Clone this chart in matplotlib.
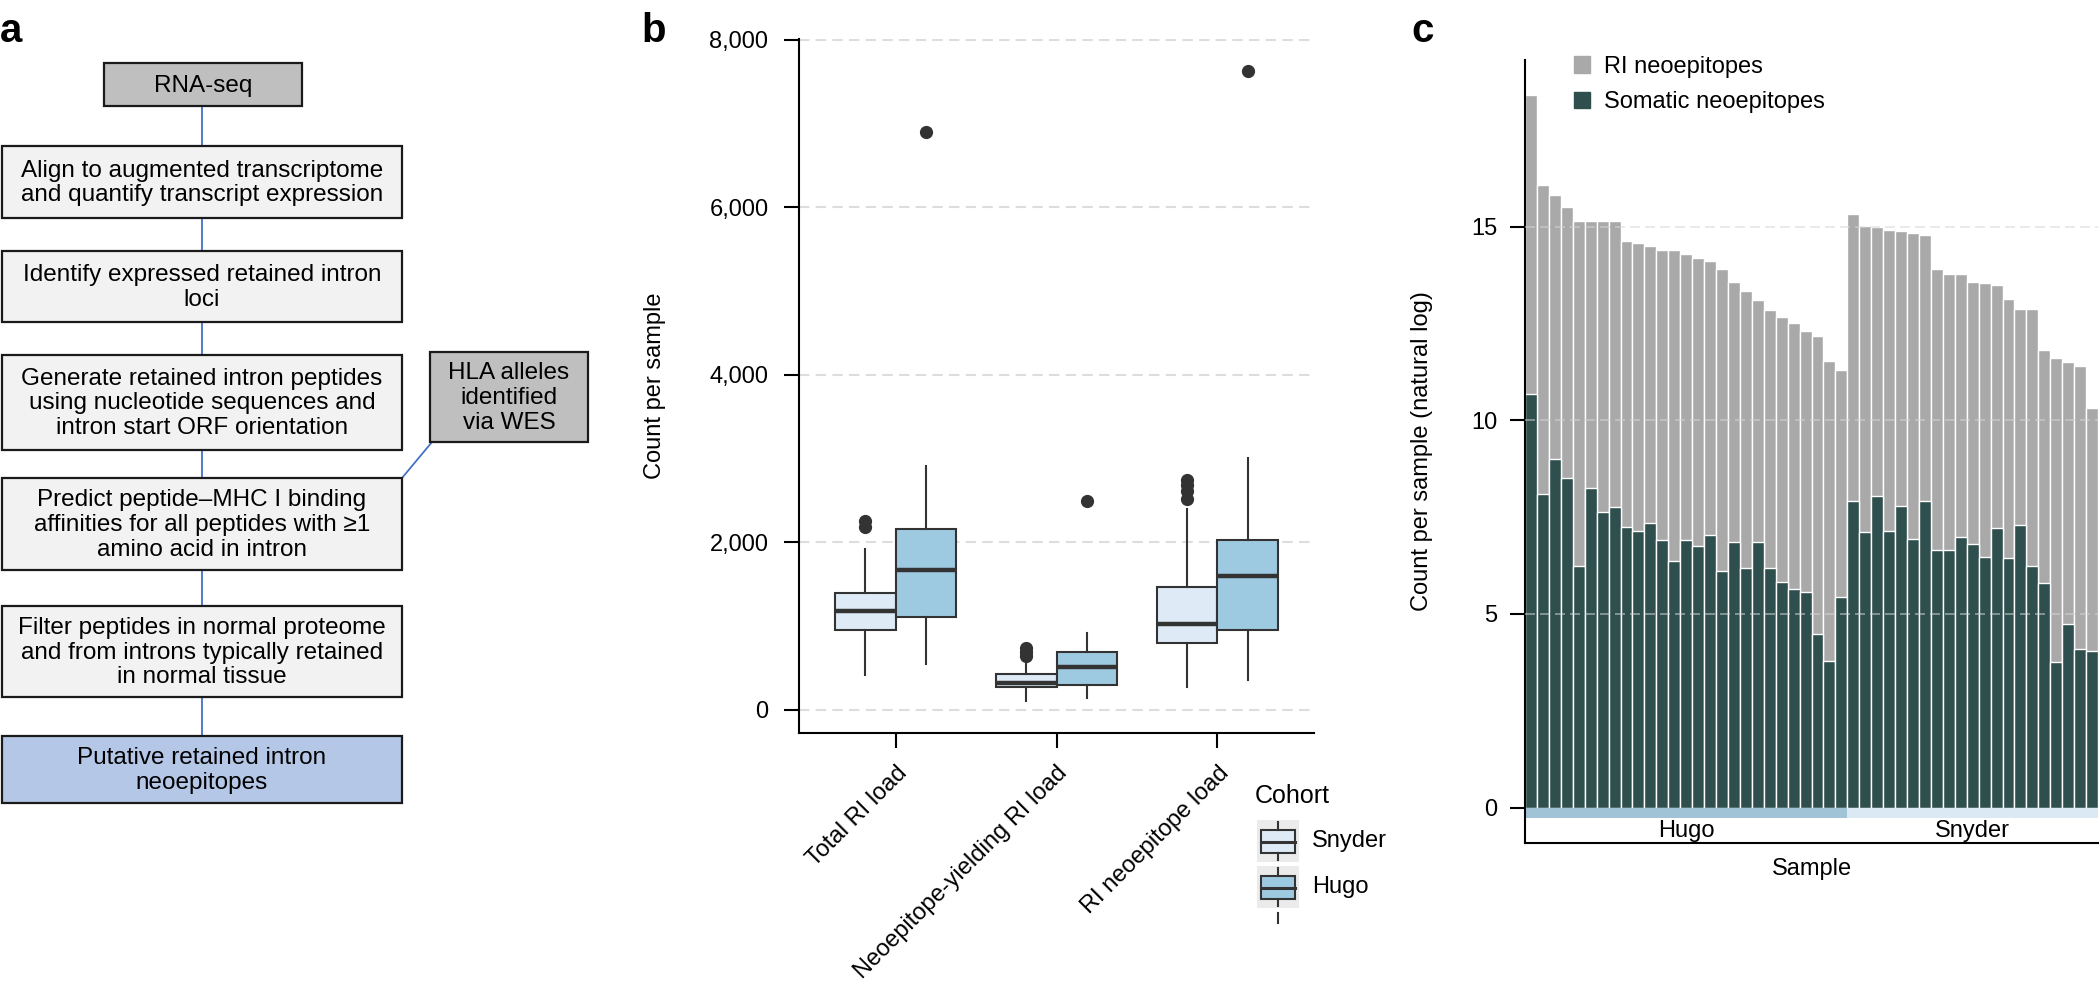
import numpy as np
import matplotlib
matplotlib.use('Agg')
import matplotlib.pyplot as plt
from matplotlib.patches import Rectangle, Patch
from matplotlib.ticker import FuncFormatter

plt.rcParams['font.family'] = ['Liberation Sans', 'DejaVu Sans']

# ---- panel a: pipeline steps ----
flow_steps = [
    'RNA-seq',
    'Align to augmented transcriptome\nand quantify transcript expression',
    'Identify expressed retained intron\nloci',
    'Generate retained intron peptides\nusing nucleotide sequences and\nintron start ORF orientation',
    'Predict peptide\u2013MHC I binding\naffinities for all peptides with \u22651\namino acid in intron',
    'Filter peptides in normal proteome\nand from introns typically retained\nin normal tissue',
    'Putative retained intron\nneoepitopes',
]
side_step = 'HLA alleles\nidentified\nvia WES'

# ---- panel b: load per sample (box stats) ----
load_types = ['Total RI load', 'Neoepitope-yielding RI load', 'RI neoepitope load']
cohorts = ['Snyder', 'Hugo']
# (whislo, q1, med, q3, whishi)
snyder_stats = [(410, 959, 1177, 1397, 1918), (103, 270, 318, 430, 590), (270, 795, 1030, 1472, 2400)]
hugo_stats = [(549, 1114, 1667, 2161, 2913), (143, 302, 517, 696, 915), (350, 955, 1592, 2022, 3009)]
snyder_fliers = [[2180, 2260], [640, 690, 740], [2520, 2610, 2680, 2750]]
hugo_fliers = [[6905], [2491], [7634]]

# ---- panel c: per-sample counts (natural log) ----
hugo_ri = [18.41, 16.08, 15.81, 15.52, 15.16, 15.16, 15.16, 15.16, 14.63, 14.57, 14.51, 14.39, 14.39, 14.31,
           14.19, 14.11, 13.90, 13.58, 13.33, 13.12, 12.84, 12.67, 12.52, 12.31, 12.17, 11.54, 11.31]
hugo_somatic = [10.67, 8.10, 9.00, 8.52, 6.23, 8.26, 7.63, 7.76, 7.25, 7.14, 7.34, 6.90, 6.38, 6.92,
                6.75, 7.04, 6.11, 6.86, 6.18, 6.87, 6.18, 5.83, 5.64, 5.57, 4.48, 3.79, 5.43]
snyder_ri = [15.32, 15.01, 15.00, 14.93, 14.89, 14.85, 14.78, 13.92, 13.78, 13.78, 13.57, 13.54, 13.49,
             13.13, 12.89, 12.89, 11.81, 11.60, 11.52, 11.40, 10.31]
snyder_somatic = [7.93, 7.12, 8.04, 7.14, 7.78, 6.93, 7.91, 6.66, 6.64, 6.98, 6.81, 6.48, 7.21,
                  6.45, 7.29, 6.23, 5.81, 3.77, 4.75, 4.09, 4.05]

colors_cohort = {'Snyder': '#deebf7', 'Hugo': '#9ecae1'}
band_colors = {'Snyder': '#dbe9f5', 'Hugo': '#a0c4d6'}
dark = '#333333'

fig = plt.figure(figsize=(21, 9.98), dpi=100)

# overlay in pixel coordinates for the flowchart, panel letters and cohort legend
ov = fig.add_axes([0, 0, 1, 1])
ov.set_xlim(0, 2100)
ov.set_ylim(998, 0)
ov.axis('off')
ov.patch.set_alpha(0)

box_x = [(104, 302)] + [(2, 402)] * 6
box_y = [(63, 106), (146, 218), (251, 322), (355, 450), (478, 570), (606, 697), (736, 803)]
box_fill = ['#bfbfbf', '#f2f2f2', '#f2f2f2', '#f2f2f2', '#f2f2f2', '#f2f2f2', '#b4c7e7']
line_blue = '#4472c4'

for i, txt in enumerate(flow_steps):
    x0, x1 = box_x[i]
    y0, y1 = box_y[i]
    ov.add_patch(Rectangle((x0, y0), x1 - x0, y1 - y0, facecolor=box_fill[i], edgecolor='#1a1a1a', linewidth=1.6, zorder=2))
    ov.text((x0 + x1) / 2, (y0 + y1) / 2 + 1, txt, ha='center', va='center', fontsize=17.5, linespacing=1.15, zorder=3)
    if i > 0:
        ov.plot([202, 202], [box_y[i - 1][1], y0], color=line_blue, linewidth=1.3, zorder=1)

# side box (HLA alleles)
ov.add_patch(Rectangle((430, 352), 158, 90, facecolor='#bfbfbf', edgecolor='#1a1a1a', linewidth=1.6, zorder=2))
ov.text(509, 398, side_step, ha='center', va='center', fontsize=17.5, linespacing=1.15, zorder=3)
ov.plot([402, 432], [478, 442], color=line_blue, linewidth=1.3, zorder=1)

# panel letters
for lx, letter in [(0, 'a'), (641, 'b'), (1411, 'c')]:
    ov.text(lx, 42, letter, fontsize=29, fontweight='bold', ha='left', va='baseline')

# ---- panel b ----
axb = fig.add_axes([799 / 2100, 1 - 733 / 998, 515 / 2100, (733 - 39) / 998])
axb.patch.set_alpha(0)
idx = np.arange(1, len(load_types) + 1)
for c, (stats, fliers, off) in enumerate([(snyder_stats, snyder_fliers, -0.1875), (hugo_stats, hugo_fliers, 0.1875)]):
    bstats = []
    for (lo, q1, med, q3, hi), fl in zip(stats, fliers):
        bstats.append(dict(whislo=lo, q1=q1, med=med, q3=q3, whishi=hi, fliers=fl))
    axb.bxp(bstats, positions=idx + off, widths=0.375, patch_artist=True, showcaps=False,
            boxprops=dict(facecolor=colors_cohort[cohorts[c]], edgecolor=dark, linewidth=1.5),
            medianprops=dict(color=dark, linewidth=3.2),
            whiskerprops=dict(color=dark, linewidth=1.5),
            flierprops=dict(marker='o', markerfacecolor=dark, markeredgecolor=dark, markersize=8.5),
            manage_ticks=False, zorder=3)

axb.set_xlim(0.4, 3.6)
axb.set_ylim(-277, 8011)
axb.set_yticks([0, 2000, 4000, 6000, 8000])
axb.yaxis.set_major_formatter(FuncFormatter(lambda v, _: f'{v:,.0f}'))
axb.set_xticks(idx)
axb.set_xticklabels(load_types, rotation=45, ha='right', va='top', rotation_mode='anchor')
axb.grid(axis='y', color='#dddddd', linestyle=(0, (5, 3)), linewidth=1.5, zorder=0)
axb.set_axisbelow(True)
for s in ['top', 'right']:
    axb.spines[s].set_visible(False)
for s in ['left', 'bottom']:
    axb.spines[s].set_linewidth(1.5)
axb.tick_params(axis='both', length=11, width=1.5, labelsize=17)
axb.tick_params(axis='y', pad=11)
axb.tick_params(axis='x', pad=10)
axb.set_ylabel('Count per sample', fontsize=17)
axb.yaxis.set_label_coords(-0.258, 0.5)

# cohort legend (drawn in pixel coords)
ov.text(1255, 796, 'Cohort', fontsize=18, ha='left', va='center')
for k, name in enumerate(cohorts):
    y0 = 820 + 46 * k
    ov.add_patch(Rectangle((1257, y0), 42, 42, facecolor='#ebebeb', edgecolor='none'))
    ov.add_patch(Rectangle((1261, y0 + 10), 34, 23, facecolor=colors_cohort[name], edgecolor=dark, linewidth=1.5))
    ov.plot([1261, 1295], [y0 + 21.5, y0 + 21.5], color=dark, linewidth=2.2)
    ov.plot([1278, 1278], [y0 + 2, y0 + 10], color=dark, linewidth=1.5)
    ov.plot([1278, 1278], [y0 + 33, y0 + 40], color=dark, linewidth=1.5)
    ov.text(1312, y0 + 21, name, fontsize=17, ha='left', va='center')
ov.plot([1278, 1278], [913, 923], color=dark, linewidth=1.5)

# ---- panel c ----
axc = fig.add_axes([1525 / 2100, 1 - 843 / 998, 573 / 2100, (843 - 60) / 998])
axc.patch.set_alpha(0)
ri_all = hugo_ri + snyder_ri
som_all = hugo_somatic + snyder_somatic
x = np.arange(len(ri_all))
axc.bar(x, ri_all, width=1, color='#a9a9a9', edgecolor='white', linewidth=1.0, zorder=2)
axc.bar(x, som_all, width=1, color='#2f4f4f', edgecolor='white', linewidth=1.0, zorder=2)

for v in [5, 10, 15]:
    axc.axhline(v, color='#d6d6d6', linestyle=(0, (6, 3)), linewidth=1.2, alpha=0.6, zorder=3)

start = 0
for name, n in [('Hugo', len(hugo_ri)), ('Snyder', len(snyder_ri))]:
    center = start + n / 2 - 0.5
    axc.bar(center, -0.27, width=n, bottom=0, color=band_colors[name], linewidth=0, zorder=2)
    axc.text(center, -0.6, name, ha='center', va='center', fontsize=17)
    start += n

axc.set_xlim(-0.5, len(ri_all) - 0.5)
axc.set_ylim(-0.917, 19.31)
axc.set_yticks([0, 5, 10, 15])
axc.set_xticks([])
for s in ['top', 'right']:
    axc.spines[s].set_visible(False)
for s in ['left', 'bottom']:
    axc.spines[s].set_linewidth(1.5)
axc.tick_params(axis='y', length=11, width=1.5, labelsize=17, pad=9)
axc.set_ylabel('Count per sample (natural log)', fontsize=17)
axc.yaxis.set_label_coords(-0.1606, 0.5)
axc.text(0.5, -0.033, 'Sample', transform=axc.transAxes, ha='center', va='center', fontsize=17)

handles = [Patch(color='#a9a9a9', label='RI neoepitopes'), Patch(color='#2f4f4f', label='Somatic neoepitopes')]
axc.legend(handles=handles, loc='upper left', bbox_to_anchor=(0.085, 1.0055), frameon=False, fontsize=17,
           handlelength=0.7, handleheight=0.7, handletextpad=0.6, labelspacing=0.57, borderpad=0, borderaxespad=0)

fig.savefig('out.png', dpi=100)
